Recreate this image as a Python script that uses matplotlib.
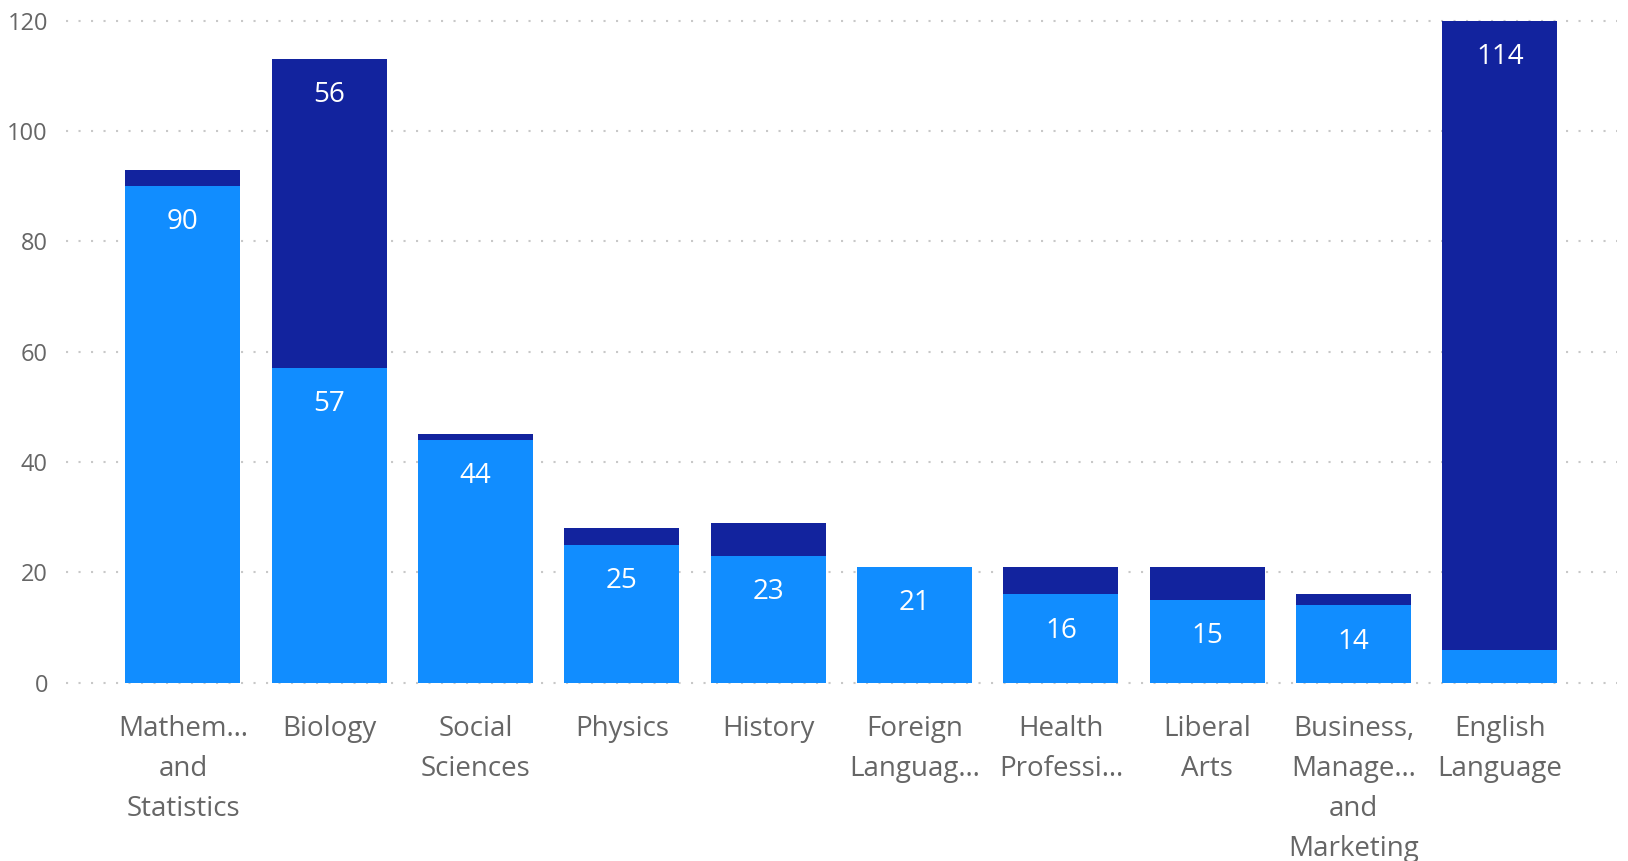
import matplotlib
matplotlib.use('Agg')
import matplotlib.pyplot as plt
import numpy as np

# ── Données ──
categories = ["Mathem…\nand\nStatistics", "Biology", "Social\nSciences", "Physics",
              "History", "Foreign\nLanguag…", "Health\nProfessi…", "Liberal\nArts",
              "Business,\nManage…\nand\nMarketing", "English\nLanguage"]
serie_bas  = [90, 57, 44, 25, 23, 21, 16, 15, 14, 6]
serie_haut = [3, 56, 1, 3, 6, 0, 5, 6, 2, 114]
yticks     = [0, 20, 40, 60, 80, 100, 120]

COL_BAS  = "#118DFF"
COL_HAUT = "#12239E"
GRIS     = "#666666"

plt.rcParams['font.family'] = ["Open Sans", "DejaVu Sans"]

fig = plt.figure(figsize=(16.28, 8.61), dpi=100)
ax = fig.add_axes([0.0405, 0.2071, 0.9527, 0.7689])

x = np.arange(len(categories))
w = 0.786
bars_bas  = ax.bar(x, serie_bas, width=w, color=COL_BAS, zorder=2)
bars_haut = ax.bar(x, serie_haut, width=w, bottom=serie_bas, color=COL_HAUT, zorder=2)

# étiquettes de valeurs (seulement si le segment est assez grand)
for bars, vals, bottoms in [(bars_bas, serie_bas, [0] * len(x)),
                            (bars_haut, serie_haut, serie_bas)]:
    for xi, v, b in zip(x, vals, bottoms):
        if v < 10:
            continue
        ax.annotate(str(v), (xi, b + v), xytext=(0, -26), textcoords="offset points",
                    ha="center", va="center", color="white", fontsize=20)

ax.set_xlim(-0.8, len(x) - 0.2)
ax.set_ylim(0, 120)
ax.set_yticks(yticks)
ax.set_xticks(x)
ax.set_xticklabels(categories, fontsize=20, color=GRIS, linespacing=1.57)
ax.tick_params(axis="x", length=0, pad=23.5)
ax.tick_params(axis="y", length=0, pad=13, labelsize=17, labelcolor=GRIS)

for s in ax.spines.values():
    s.set_visible(False)
ax.grid(axis="y", color="#C8C8C8", linestyle=(0, (1, 5)), linewidth=1.5, zorder=0)
for gl in ax.get_ygridlines():
    gl.set_clip_on(False)

plt.savefig("out.png", dpi=100)
plt.close()
